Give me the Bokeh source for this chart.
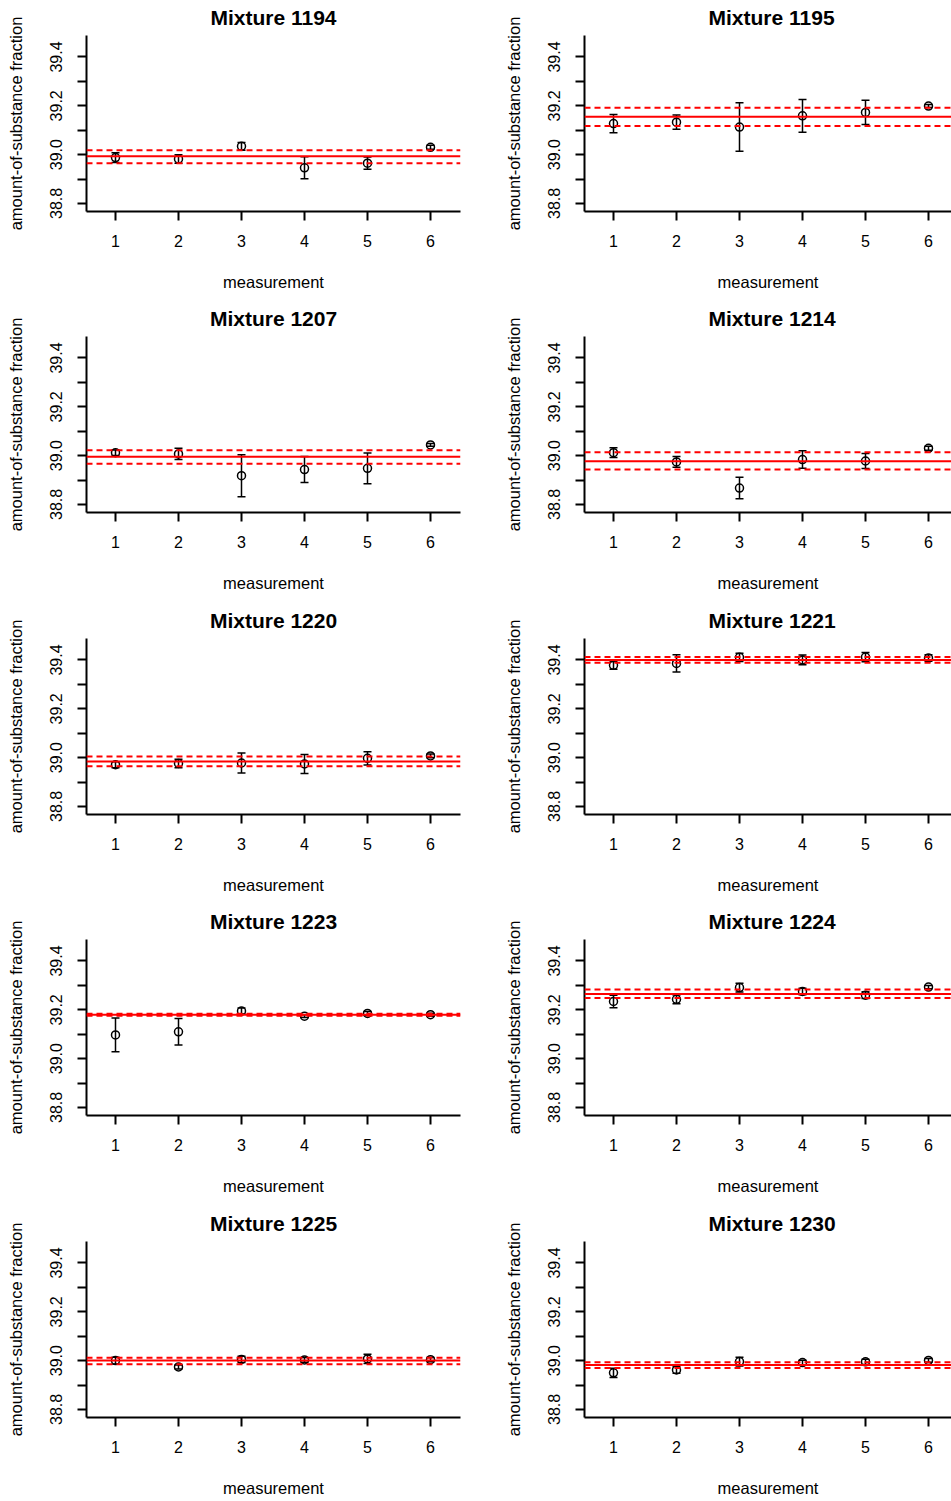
from bokeh.plotting import figure
from bokeh.layouts import gridplot
from bokeh.models import Span, FixedTicker, Range1d, PrintfTickFormatter, Title
from bokeh.embed import file_html
from bokeh.resources import INLINE

mixtures = ["Mixture 1194", "Mixture 1195", "Mixture 1207", "Mixture 1214", "Mixture 1220",
            "Mixture 1221", "Mixture 1223", "Mixture 1224", "Mixture 1225", "Mixture 1230"]
measurement = [1, 2, 3, 4, 5, 6]

values_1194 = [38.988, 38.982, 39.034, 38.946, 38.965, 39.030]
errors_1194 = [0.020, 0.017, 0.016, 0.045, 0.025, 0.008]
values_1195 = [39.127, 39.133, 39.113, 39.159, 39.173, 39.199]
errors_1195 = [0.037, 0.029, 0.099, 0.067, 0.050, 0.006]
values_1207 = [39.012, 39.007, 38.918, 38.943, 38.948, 39.044]
errors_1207 = [0.011, 0.023, 0.086, 0.053, 0.063, 0.006]
values_1214 = [39.012, 38.974, 38.867, 38.984, 38.978, 39.030]
errors_1214 = [0.020, 0.022, 0.044, 0.036, 0.031, 0.008]
values_1220 = [38.971, 38.976, 38.978, 38.974, 38.997, 39.007]
errors_1220 = [0.012, 0.017, 0.041, 0.039, 0.027, 0.008]
values_1221 = [39.378, 39.386, 39.411, 39.400, 39.412, 39.408]
errors_1221 = [0.016, 0.035, 0.017, 0.020, 0.019, 0.013]
values_1223 = [39.097, 39.110, 39.195, 39.174, 39.185, 39.180]
errors_1223 = [0.069, 0.054, 0.012, 0.006, 0.008, 0.006]
values_1224 = [39.234, 39.243, 39.291, 39.275, 39.260, 39.293]
errors_1224 = [0.026, 0.018, 0.018, 0.013, 0.014, 0.007]
values_1225 = [39.000, 38.974, 39.005, 39.003, 39.007, 39.004]
errors_1225 = [0.014, 0.008, 0.013, 0.010, 0.019, 0.009]
values_1230 = [38.950, 38.962, 38.996, 38.992, 38.995, 39.001]
errors_1230 = [0.019, 0.014, 0.018, 0.010, 0.011, 0.008]

# consensus value and its lower / upper uncertainty limits
consensus = [38.993, 39.155, 38.995, 38.977, 38.984, 39.400, 39.180, 39.265, 39.000, 38.982]
lower = [38.965, 39.117, 38.967, 38.943, 38.965, 39.389, 39.176, 39.248, 38.985, 38.970]
upper = [39.018, 39.192, 39.022, 39.014, 39.005, 39.412, 39.184, 39.283, 39.012, 38.993]

y_major = [38.8, 39.0, 39.2, 39.4]
y_minor = [38.9, 39.1, 39.3]
x_ticks = [1, 2, 3, 4, 5, 6]

all_values = [values_1194, values_1195, values_1207, values_1214, values_1220,
              values_1221, values_1223, values_1224, values_1225, values_1230]
all_errors = [errors_1194, errors_1195, errors_1207, errors_1214, errors_1220,
              errors_1221, errors_1223, errors_1224, errors_1225, errors_1230]

FONT = "Liberation Sans"
row_heights = [301, 302, 301, 302, 295]
col_widths = [498, 453]
X0 = 0.5397
PX_PER_UNIT = 63.0
FRAME_H = 176
FULL_FRAME_W = 374

def make_panel(i):
    r, c = divmod(i, 2)
    w = col_widths[c]
    h = row_heights[r]
    frame_w = w - 86 - (38 if c == 0 else 0)
    p = figure(width=w, height=h, output_backend="svg", toolbar_location=None,
               x_range=Range1d(X0, X0 + frame_w / PX_PER_UNIT),
               y_range=Range1d(38.767, 39.488),
               min_border_left=86, min_border_right=(38 if c == 0 else 0),
               min_border_top=35, min_border_bottom=h - 35 - FRAME_H)
    p.outline_line_color = None
    p.grid.visible = False
    p.background_fill_color = "white"
    p.border_fill_color = "white"

    # the right column is cropped, so its title is placed to stay centred
    # over the full (uncropped) plot region
    title = Title(text=mixtures[i], text_font=FONT, text_font_size="21px",
                  text_font_style="bold", text_color="black",
                  align=("center" if c == 0 else "left"),
                  offset=(0 if c == 0 else FULL_FRAME_W / 2.0 - 63),
                  vertical_align="top", standoff=9)
    p.add_layout(title, "above")

    for ax in (p.xaxis[0], p.yaxis[0]):
        ax.axis_line_width = 2
        ax.axis_line_color = "black"
        ax.major_tick_line_width = 2
        ax.minor_tick_line_width = 2
        ax.major_tick_in = 0
        ax.minor_tick_in = 0
        ax.major_label_text_font = FONT
        ax.major_label_text_font_size = "16px"
        ax.major_label_text_color = "black"
        ax.axis_label_text_font = FONT
        ax.axis_label_text_font_size = "16.5px"
        ax.axis_label_text_font_style = "normal"
        ax.axis_label_text_color = "black"

    xa = p.xaxis[0]
    xa.ticker = FixedTicker(ticks=x_ticks)
    xa.major_tick_out = 9
    xa.minor_tick_out = 0
    xa.major_label_standoff = 14
    xa.axis_label = "measurement"
    xa.axis_label_standoff = 23

    ya = p.yaxis[0]
    ya.ticker = FixedTicker(ticks=y_major, minor_ticks=y_minor)
    ya.formatter = PrintfTickFormatter(format="%.1f")
    ya.major_tick_out = 9
    ya.minor_tick_out = 9
    ya.major_label_orientation = "vertical"
    ya.major_label_standoff = 15
    ya.axis_label = "amount-of-substance fraction"
    ya.axis_label_standoff = 23

    p.add_layout(Span(location=consensus[i], dimension="width", line_color="red", line_width=2))
    p.add_layout(Span(location=lower[i], dimension="width", line_color="red", line_width=2, line_dash="6 4"))
    p.add_layout(Span(location=upper[i], dimension="width", line_color="red", line_width=2, line_dash="6 4"))

    vals = all_values[i]
    errs = all_errors[i]
    lo = [v - e for v, e in zip(vals, errs)]
    hi = [v + e for v, e in zip(vals, errs)]
    p.segment(x0=measurement, y0=lo, x1=measurement, y1=hi, line_color="black", line_width=1.5)
    p.scatter(x=measurement, y=lo, marker="dash", size=8, line_color="black", line_width=1.5)
    p.scatter(x=measurement, y=hi, marker="dash", size=8, line_color="black", line_width=1.5)
    p.scatter(x=measurement, y=vals, marker="circle", size=8, fill_color=None,
              line_color="black", line_width=1.5)
    return p

panels = [make_panel(i) for i in range(10)]
grid = [[panels[2 * r], panels[2 * r + 1]] for r in range(5)]
layout = gridplot(grid, toolbar_location=None)

open("out.html", "w").write(file_html(layout, INLINE))
